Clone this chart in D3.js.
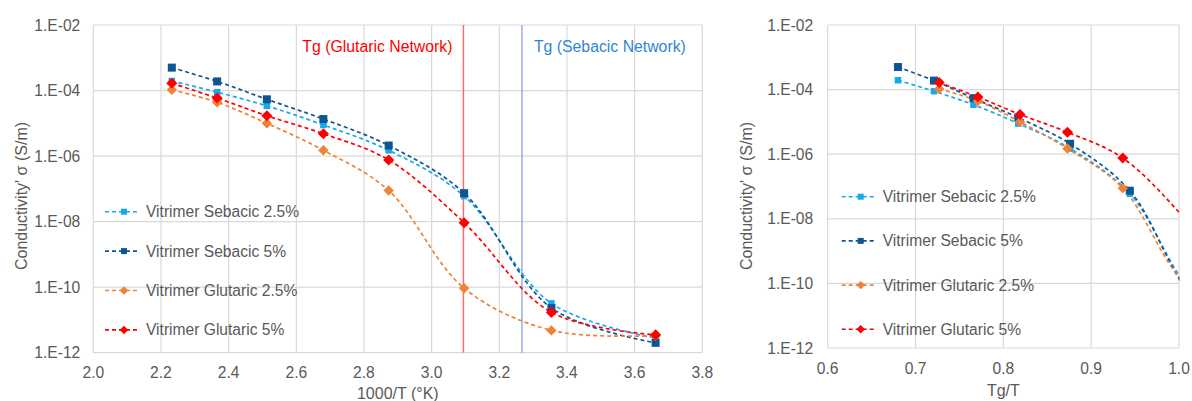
<!DOCTYPE html>
<html>
<head>
<meta charset="utf-8">
<script src="https://cdn.jsdelivr.net/npm/d3@7"></script>
<style>
  body { margin: 0; background: #fff; }
  svg { display: block; font-family: "Liberation Sans", Arial, sans-serif; }
</style>
</head>
<body>
<svg id="chart" width="1192" height="401"></svg>
<script>
// ---------------- data ----------------
const invT = [2.232, 2.366, 2.513, 2.680, 2.873, 3.096, 3.354, 3.662];          // 1000/T (°K)
const tgTSebacic = [0.680, 0.721, 0.766, 0.817, 0.876, 0.944, 1.023, 1.116];    // Tg/T, sebacic
const tgTGlutaric = [0.727, 0.771, 0.819, 0.873, 0.936, 1.008, 1.093, 1.193];   // Tg/T, glutaric

const sebacic25  = [1.95e-4, 8.9e-5, 3.4e-5, 8.9e-6, 1.5e-6, 6.0e-8, 3.2e-11, 2.8e-12];
const sebacic5   = [5.0e-4, 1.9e-4, 5.4e-5, 1.35e-5, 2.1e-6, 7.4e-8, 2.3e-11, 2.0e-12];
const glutaric25 = [1.05e-4, 4.4e-5, 1.0e-5, 1.5e-6, 8.9e-8, 9.3e-11, 4.8e-12, 3.3e-12];
const glutaric5  = [1.66e-4, 5.9e-5, 1.7e-5, 4.8e-6, 7.6e-7, 9.3e-9, 1.7e-11, 3.5e-12];

const seriesNames = ["Vitrimer Sebacic 2.5%", "Vitrimer Sebacic 5%", "Vitrimer Glutaric 2.5%", "Vitrimer Glutaric 5%"];
const yTicks = [1e-2, 1e-4, 1e-6, 1e-8, 1e-10, 1e-12];
const yTickLabels = ["1.E-02", "1.E-04", "1.E-06", "1.E-08", "1.E-10", "1.E-12"];
const xTicksLeft = [2.0, 2.2, 2.4, 2.6, 2.8, 3.0, 3.2, 3.4, 3.6, 3.8];
const xTicksRight = [0.6, 0.7, 0.8, 0.9, 1.0];
const tgGlutaricInvT = 3.094;
const tgSebacicInvT = 3.267;
const tgLabels = ["Tg (Glutaric Network)", "Tg (Sebacic Network)"];

// ---------------- styles ----------------
const colors = ["#17A9EA", "#0E5594", "#EE8236", "#FF0000"];
const shapes = ["square", "square", "diamond", "diamond"];
const markerSize = [6.5, 8, 8, 8.5];
const textColor = "#595959";
const gridColor = "#D9D9D9";
const fs = 15.6;

const svg = d3.select("#chart");

function marker(g, shape, x, y, s, color) {
  if (shape === "square") {
    g.append("rect").attr("x", x - s / 2).attr("y", y - s / 2)
      .attr("width", s).attr("height", s).attr("fill", color);
  } else {
    const r = s * 0.65;
    g.append("path").attr("d", `M${x},${y - r}L${x + r},${y}L${x},${y + r}L${x - r},${y}Z`).attr("fill", color);
  }
}

function drawPanel(cfg) {
  const x = d3.scaleLinear().domain(cfg.xDomain).range([cfg.left, cfg.right]);
  const y = d3.scaleLog().domain([1e-12, 1e-2]).range([cfg.bottom, cfg.top]);
  const g = svg.append("g");

  // grid
  g.selectAll(".vg").data(cfg.xTicks).enter().append("line")
    .attr("x1", d => x(d)).attr("x2", d => x(d))
    .attr("y1", cfg.top).attr("y2", cfg.bottom)
    .attr("stroke", gridColor).attr("stroke-width", 1.2);
  g.selectAll(".hg").data(yTicks).enter().append("line")
    .attr("x1", cfg.left).attr("x2", cfg.right)
    .attr("y1", d => y(d)).attr("y2", d => y(d))
    .attr("stroke", gridColor).attr("stroke-width", 1.2);

  // tick labels
  g.selectAll(".yl").data(yTicks).enter().append("text")
    .attr("x", cfg.left - cfg.yLabelGap).attr("y", d => y(d))
    .attr("text-anchor", "end").attr("dominant-baseline", "central")
    .attr("font-size", fs).attr("fill", textColor)
    .text((d, i) => yTickLabels[i]);
  g.selectAll(".xl").data(cfg.xTicks).enter().append("text")
    .attr("x", d => x(d)).attr("y", cfg.xLabelY)
    .attr("text-anchor", "middle").attr("dominant-baseline", "central")
    .attr("font-size", fs).attr("fill", textColor)
    .text(d => d.toFixed(1));

  // axis titles
  g.append("text").attr("x", (cfg.left + cfg.right) / 2).attr("y", cfg.xTitleY)
    .attr("text-anchor", "middle").attr("dominant-baseline", "central")
    .attr("font-size", 16).attr("fill", textColor).text(cfg.xTitle);
  g.append("text")
    .attr("transform", `translate(${cfg.yTitleX},${cfg.yTitleY}) rotate(-90)`)
    .attr("text-anchor", "middle").attr("dominant-baseline", "central")
    .attr("font-size", 16).attr("fill", textColor).text("Conductivity'  σ  (S/m)");

  if (cfg.extra) cfg.extra(g, x, y);

  // clip
  const clipId = "clip" + cfg.id;
  svg.append("clipPath").attr("id", clipId).append("rect")
    .attr("x", cfg.left).attr("y", cfg.top - 6)
    .attr("width", cfg.right - cfg.left + 0.5).attr("height", cfg.bottom - cfg.top + 12);
  const plot = g.append("g").attr("clip-path", `url(#${clipId})`);

  const line = d3.line().curve(d3.curveCatmullRom.alpha(0.5));
  cfg.series.forEach((s, i) => {
    const pts = s.xs.map((xv, j) => [x(xv), y(s.ys[j])]);
    plot.append("path").attr("d", line(pts)).attr("fill", "none")
      .attr("stroke", colors[i]).attr("stroke-width", 1.7)
      .attr("stroke-dasharray", "4,3");
  });
  cfg.series.forEach((s, i) => {
    s.xs.forEach((xv, j) => {
      if (xv <= cfg.xDomain[1] + 1e-9) marker(plot, shapes[i], x(xv), y(s.ys[j]), markerSize[i], colors[i]);
    });
  });

  // legend
  seriesNames.forEach((name, i) => {
    const ly = cfg.legendY + i * cfg.legendStep;
    g.append("line").attr("x1", cfg.legendX).attr("x2", cfg.legendX + 33)
      .attr("y1", ly).attr("y2", ly)
      .attr("stroke", colors[i]).attr("stroke-width", 1.6).attr("stroke-dasharray", "4,3");
    marker(g, shapes[i], cfg.legendX + 19, ly, shapes[i] === "square" ? 6 : 6.5, colors[i]);
    g.append("text").attr("x", cfg.legendX + 41).attr("y", ly)
      .attr("dominant-baseline", "central").attr("font-size", fs)
      .attr("fill", textColor).text(name);
  });
}

// Left panel
drawPanel({
  id: "L",
  xDomain: [2.0, 3.8], left: 93.3, right: 702.3, top: 25, bottom: 352.7,
  xTicks: xTicksLeft, yLabelGap: 13, xLabelY: 372.7, xTitleY: 393,
  xTitle: "1000/T (°K)", yTitleX: 21, yTitleY: 196,
  legendX: 105, legendY: 211.7, legendStep: 39.4,
  series: [
    { xs: invT, ys: sebacic25 },
    { xs: invT, ys: sebacic5 },
    { xs: invT, ys: glutaric25 },
    { xs: invT, ys: glutaric5 }
  ],
  extra: (g, x, y) => {
    g.append("line").attr("x1", x(tgGlutaricInvT)).attr("x2", x(tgGlutaricInvT))
      .attr("y1", 25).attr("y2", 352.7).attr("stroke", "#FF6B6B").attr("stroke-width", 1.5);
    g.append("line").attr("x1", x(tgSebacicInvT)).attr("x2", x(tgSebacicInvT))
      .attr("y1", 25).attr("y2", 352.7).attr("stroke", "#7C9BDA").attr("stroke-width", 1.2);
    g.append("text").attr("x", x(tgGlutaricInvT) - 11).attr("y", 46.7)
      .attr("text-anchor", "end").attr("dominant-baseline", "central")
      .attr("font-size", 15.8).attr("fill", "#FF0000").text(tgLabels[0]);
    g.append("text").attr("x", x(tgSebacicInvT) + 12).attr("y", 46.7)
      .attr("dominant-baseline", "central")
      .attr("font-size", 15.8).attr("fill", "#2F86D1").text(tgLabels[1]);
  }
});

// Right panel
drawPanel({
  id: "R",
  xDomain: [0.6, 1.0], left: 827.7, right: 1179, top: 25, bottom: 348,
  xTicks: xTicksRight, yLabelGap: 14.5, xLabelY: 368.3, xTitleY: 390,
  xTitle: "Tg/T", yTitleX: 746, yTitleY: 196,
  legendX: 841.7, legendY: 196.7, legendStep: 44.2,
  series: [
    { xs: tgTSebacic, ys: sebacic25 },
    { xs: tgTSebacic, ys: sebacic5 },
    { xs: tgTGlutaric, ys: glutaric25 },
    { xs: tgTGlutaric, ys: glutaric5 }
  ]
});
</script>
</body>
</html>
